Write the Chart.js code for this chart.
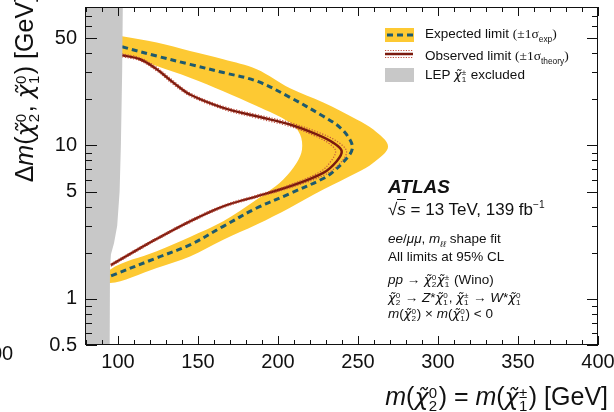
<!DOCTYPE html>
<html>
<head>
<meta charset="utf-8">
<script src="https://cdn.jsdelivr.net/npm/chart.js@4.4.1/dist/chart.umd.min.js"></script>
<style>
  html, body { margin: 0; padding: 0; background: #fff; }
  #wrap { position: relative; width: 614px; height: 412px; overflow: hidden;
          font-family: "Liberation Sans", Arial, sans-serif; color: #111; }
  #wrap canvas { position: absolute; left: 0; top: 0; }
  .t { position: absolute; white-space: nowrap; line-height: 1; }
  .ss { display: inline-flex; flex-direction: column; font-size: 0.6em; line-height: 0.9;
        vertical-align: 0.5em; margin: 0 0.1em 0 0.02em; text-align: left; font-style: normal; }
  .chi { font-family: "DejaVu Sans", sans-serif; font-style: italic; font-size: 0.95em; }
  .tex { font-family: "Liberation Serif", "DejaVu Serif", serif; }
  .tex sub { font-family: "Liberation Sans", Arial, sans-serif; font-size: 0.62em; }
  .sw { position: absolute; }
</style>
</head>
<body>
<div id="wrap">
  <canvas id="limitChart" width="614" height="412"></canvas>

  <!-- legend -->
  <svg class="sw" style="left:385px;top:28px" width="29" height="14">
    <rect x="0" y="0" width="29" height="14" fill="#fdc933"/>
    <line x1="2" y1="7" x2="28" y2="7" stroke="#1e5a6e" stroke-width="3" stroke-dasharray="6,4"/>
  </svg>
  <div class="t" style="left:425px;top:27px;font-size:13.5px" id="lg1"></div>
  <svg class="sw" style="left:385px;top:49px" width="28" height="10">
    <line x1="0" y1="1.5" x2="28" y2="1.5" stroke="#c0503f" stroke-width="1.2" stroke-dasharray="1.2,1.4"/>
    <line x1="0" y1="5" x2="28" y2="5" stroke="#7b1a0e" stroke-width="2.5"/>
    <line x1="0" y1="8.5" x2="28" y2="8.5" stroke="#c0503f" stroke-width="1.2" stroke-dasharray="1.2,1.4"/>
  </svg>
  <div class="t" style="left:425px;top:49px;font-size:13.5px" id="lg2"></div>
  <svg class="sw" style="left:385px;top:68px" width="29" height="14">
    <rect x="0" y="0" width="29" height="14" fill="#c8c8c8"/>
  </svg>
  <div class="t" style="left:425px;top:68px;font-size:13.5px" id="lg3"></div>

  <!-- ATLAS label block -->
  <div class="t" style="left:388px;top:177px;font-size:19px;font-weight:bold;font-style:italic">ATLAS</div>
  <div class="t" style="left:388px;top:200px;font-size:17px">&#8730;<i style="border-top:1px solid #111">s</i> = 13 TeV, 139 fb<sup style="font-size:0.6em">&#8722;1</sup></div>
  <div class="t" style="left:388px;top:232px;font-size:13.5px" id="tx1"></div>
  <div class="t" style="left:388px;top:250px;font-size:13.5px">All limits at 95% CL</div>
  <div class="t" style="left:388px;top:273px;font-size:13.5px" id="tx2"></div>
  <div class="t" style="left:388px;top:291px;font-size:13.5px" id="tx3"></div>
  <div class="t" style="left:388px;top:307px;font-size:13.5px" id="tx4"></div>

  <!-- axis titles -->
  <div class="t" id="ytitle" style="left:0;top:0;font-size:25px;line-height:27px;transform-origin:0 0;transform:translate(11px,-5px) rotate(-90deg) translateX(-100%)"></div>
  <div class="t" id="xtitle" style="right:6px;top:384px;font-size:25px"></div>
  <div class="t" style="left:-9px;top:343px;font-size:20px">00</div>
</div>

<script>
'use strict';

/* axes */
var xRange = [80, 400];
var yRange = [0.5, 80];
var xTicks = [100, 150, 200, 250, 300, 350, 400];
var yTicks = [0.5, 1, 5, 10, 50];
var yMinor = [0.6, 0.7, 0.8, 0.9, 2, 3, 4, 6, 7, 8, 9, 20, 30, 40, 60, 70, 80];

/* LEP chargino exclusion (closed area, left of the edge) */
var lepX = [80, 103, 102.6, 101.8, 101, 99.5, 97.5, 95.6, 95, 94.8, 80];
var lepY = [80, 80, 30, 10, 5, 3, 2.3, 1.95, 1.6, 0.5, 0.5];

/* expected limit +-1 sigma band: outer edge, then inner edge back */
var bandX = [102.5, 124.2, 145, 165.8, 186.7, 207.5, 228.3, 249.2, 259.6, 268.8,
             259.6, 249.2, 228.3, 207.5, 186.7, 165.8, 145, 124.2, 95,
             95, 124.2, 145, 165.8, 186.7, 192.9, 203.3, 211.7, 215, 213.8,
             207.5, 186.7, 165.8, 145, 124.2, 102.5];
var bandY = [51.6, 46.9, 41.3, 36.5, 31.4, 23.6, 19.1, 14.8, 12.7, 9.85,
             7.71, 6.63, 5.16, 3.93, 3.05, 2.43, 1.89, 1.59, 1.27,
             1.55, 2.04, 2.53, 3.2, 4.44, 4.91, 6.0, 7.71, 9.4, 11.8,
             14.1, 18.1, 22.6, 27.7, 33.0, 39.5];

/* expected limit */
var expX = [102.5, 124.2, 145, 165.8, 186.7, 207.5, 228.3, 238.8, 245, 246.5, 244, 234.6, 228.3, 207.5, 186.7, 165.8, 145, 124.2, 95.5];
var expY = [44, 38.3, 33.8, 29.9, 26.3, 20.6, 15.5, 13.1, 10.9, 9.6, 8.5, 6.76, 6.09, 4.86, 3.91, 2.97, 2.25, 1.85, 1.41];

/* observed limit */
var obsX = [102.5, 113.8, 124.2, 134.6, 145, 165.8, 186.7, 207.5, 224.2, 234.6, 239.8, 236.7, 228.3, 207.5, 186.7, 165.8, 145, 124.2, 113.8, 95.5];
var obsY = [38.8, 36.5, 31.4, 25.7, 21.5, 17.6, 15.5, 13.7, 11.8, 10.4, 9.2, 7.9, 6.63, 5.42, 4.66, 4.01, 3.2, 2.46, 2.14, 1.66];

/* observed +-1 sigma theory */
var thUpX = [102.5, 113.8, 124.2, 134.6, 145, 165.8, 186.7, 207.5, 225, 236.5, 242.8, 239.5, 230, 208, 186.7, 165.8, 145, 124.2, 113.8, 95.5];
var thUpY = [39.6, 37.3, 32.3, 26.4, 22.0, 18.0, 15.9, 14.1, 12.2, 10.7, 9.2, 7.8, 6.5, 5.32, 4.58, 3.94, 3.14, 2.42, 2.10, 1.63];
var thDnX = [102.5, 113.8, 124.2, 134.6, 145, 165.8, 186.7, 207.5, 223.5, 232.5, 236, 233.5, 226.5, 207, 186.7, 165.8, 145, 124.2, 113.8, 95.5];
var thDnY = [38.0, 35.7, 30.6, 25.0, 21.0, 17.2, 15.1, 13.3, 11.5, 10.2, 9.2, 8.0, 6.75, 5.52, 4.74, 4.08, 3.26, 2.50, 2.18, 1.69];

function pts(xs, ys) {
  return xs.map(function(x, i) { return {x: x, y: ys[i]}; });
}

/* text with chi tilde, stacked super/subscript */
function chi(sup, sub) {
  return '<span class="chi">&#967;&#771;</span><span class="ss"><span>' + sup + '</span><span>' + sub + '</span></span>';
}
document.getElementById('lg1').innerHTML = 'Expected limit <span class="tex">(&#177;1&#963;<sub>exp</sub>)</span>';
document.getElementById('lg2').innerHTML = 'Observed limit <span class="tex">(&#177;1&#963;<sub>theory</sub>)</span>';
document.getElementById('lg3').innerHTML = 'LEP ' + chi('&#177;', '1') + ' excluded';
document.getElementById('tx1').innerHTML = '<i>ee</i>/<i>&#956;&#956;</i>, <i>m</i><sub style="font-size:0.65em"><i>&#8467;&#8467;</i></sub> shape fit';
document.getElementById('tx2').innerHTML = '<i>pp</i> &#8594; ' + chi('0', '2') + chi('&#177;', '1') + ' (Wino)';
document.getElementById('tx3').innerHTML = chi('0', '2') + ' &#8594; <i>Z</i>*' + chi('0', '1') + ', ' + chi('&#177;', '1') + ' &#8594; <i>W</i>*' + chi('0', '1');
document.getElementById('tx4').innerHTML = '<i>m</i>(' + chi('0', '2') + ') &#215; <i>m</i>(' + chi('0', '1') + ') &lt; 0';
document.getElementById('ytitle').innerHTML = '&#916;<i>m</i>(' + chi('0', '2') + ', ' + chi('0', '1') + ') [GeV]';
document.getElementById('xtitle').innerHTML = '<i>m</i>(' + chi('0', '2') + ') = <i>m</i>(' + chi('&#177;', '1') + ') [GeV]';

/* frame + inward ticks on all four sides */
var frameTicks = {
  id: 'frameTicks',
  afterDraw: function(chart) {
    var c = chart.ctx, a = chart.chartArea;
    var sx = chart.scales.x, sy = chart.scales.y;
    c.save();
    c.strokeStyle = '#111';
    c.lineWidth = 1;
    c.strokeRect(Math.round(a.left) - 0.5, Math.round(a.top) + 0.5,
                 Math.round(a.right - a.left), Math.round(a.bottom - a.top) - 1);
    c.beginPath();
    for (var i = 8; i <= 40; i++) {
      var px = Math.round(sx.getPixelForValue(i * 10)) + 0.5;
      var len = (i % 5 === 0) ? 9 : 5;
      c.moveTo(px, a.bottom); c.lineTo(px, a.bottom - len);
      c.moveTo(px, a.top); c.lineTo(px, a.top + len);
    }
    yTicks.concat(yMinor).forEach(function(v) {
      var py = Math.round(sy.getPixelForValue(v)) + 0.5;
      var len = yTicks.indexOf(v) >= 0 ? 11 : 6;
      c.moveTo(a.left, py); c.lineTo(a.left + len, py);
      c.moveTo(a.right, py); c.lineTo(a.right - len, py);
    });
    c.stroke();
    c.restore();
  }
};

var tickFont = {family: '"Liberation Sans", Arial, sans-serif', size: 20};

var ctx = document.getElementById('limitChart').getContext('2d');
var limitChart = new Chart(ctx, {
  type: 'line',
  data: {
    datasets: [{
      label: 'LEP excluded',
      data: pts(lepX, lepY),
      fill: 'shape',
      backgroundColor: '#c8c8c8',
      borderWidth: 0,
      tension: 0
    }, {
      label: 'theory up',
      data: pts(thUpX, thUpY),
      fill: false,
      borderColor: '#c0503f',
      borderWidth: 1.2,
      borderDash: [1.2, 1.6],
      tension: 0.35
    }, {
      label: 'theory down',
      data: pts(thDnX, thDnY),
      fill: false,
      borderColor: '#c0503f',
      borderWidth: 1.2,
      borderDash: [1.2, 1.6],
      tension: 0.35
    }, {
      label: 'Observed limit',
      data: pts(obsX, obsY),
      fill: false,
      borderColor: '#7b1a0e',
      borderWidth: 2.5,
      tension: 0.35
    }, {
      label: 'Expected limit',
      data: pts(expX, expY),
      fill: false,
      borderColor: '#1e5a6e',
      borderWidth: 3,
      borderDash: [6, 4],
      tension: 0.35
    }, {
      label: 'Expected band',
      data: pts(bandX, bandY),
      fill: 'shape',
      backgroundColor: '#fdc933',
      borderWidth: 0,
      tension: 0.35
    }]
  },
  options: {
    responsive: false,
    animation: false,
    devicePixelRatio: 1,
    layout: {padding: {top: 7, right: 16, left: 0, bottom: 0}},
    elements: {point: {radius: 0}},
    plugins: {legend: {display: false}, tooltip: {enabled: false}},
    scales: {
      x: {
        type: 'linear', min: xRange[0], max: xRange[1],
        afterBuildTicks: function(s) { s.ticks = xTicks.map(function(v) { return {value: v}; }); },
        afterFit: function(s) { s.height = 67; s.paddingLeft = 0; s.paddingRight = 0; },
        grid: {display: false, drawTicks: false},
        border: {display: false},
        ticks: {padding: 5, color: '#111', font: tickFont, maxRotation: 0,
                callback: function(v) { return String(v); }}
      },
      y: {
        type: 'logarithmic', min: yRange[0], max: yRange[1],
        afterBuildTicks: function(s) { s.ticks = yTicks.map(function(v) { return {value: v}; }); },
        afterFit: function(s) { s.width = 86; s.paddingTop = 0; s.paddingBottom = 0; },
        grid: {display: false, drawTicks: false},
        border: {display: false},
        ticks: {padding: 9, color: '#111', font: tickFont,
                callback: function(v) { return String(v); }}
      }
    }
  },
  plugins: [frameTicks]
});
</script>
</body>
</html>
